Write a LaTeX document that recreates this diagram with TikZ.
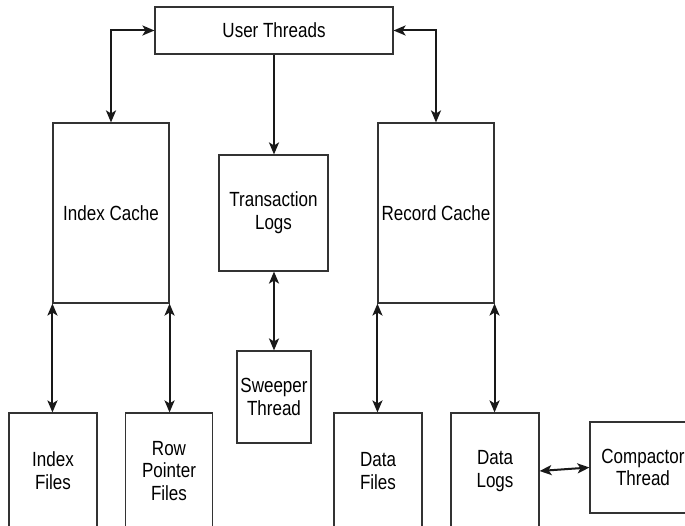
\documentclass[tikz,border=0pt]{standalone}
\usepackage{fontspec}
\setmainfont{Liberation Sans}[FakeStretch=0.83]
\usetikzlibrary{arrows.meta}
\begin{document}
\begin{tikzpicture}[x=1pt,y=-1pt,
  box/.style={draw=black!80, line width=1.1pt, fill=white, inner sep=0pt, align=center,
    font=\fontsize{20.5}{22.8}\selectfont},
  tip/.tip={Stealth[length=12pt,width=10pt,inset=3pt]},
  arr/.style={line width=2pt, draw=black!90, tip-tip},
  oarr/.style={line width=2pt, draw=black!90, -tip}]
\useasboundingbox (0,0) rectangle (685,526);
\clip (0,0) rectangle (685,526);
\fill[white] (0,0) rectangle (685,526);
\node[box, minimum width=238pt, minimum height=47pt] (ut) at (274,30.5) {User Threads};
\node[box, minimum width=116pt, minimum height=180pt] (ic) at (111,213) {Index Cache};
\node[box, minimum width=109pt, minimum height=116pt] (tl) at (273.5,213) {Transaction\\Logs};
\node[box, minimum width=116pt, minimum height=180pt] (rc) at (436,213) {Record Cache};
\node[box, minimum width=74pt, minimum height=92pt] (sw) at (274,397) {Sweeper\\Thread};
\node[box, minimum width=88pt, minimum height=116pt] (if) at (53,471) {Index\\Files};
\node[box, minimum width=87pt, minimum height=116pt] (rp) at (169,471) {Row\\Pointer\\Files};
\node[box, minimum width=88pt, minimum height=116pt] (df) at (378,471) {Data\\Files};
\node[box, minimum width=88pt, minimum height=116pt] (dl) at (495,471) {Data\\Logs};
\node[box, minimum width=106pt, minimum height=91pt] (ct) at (643,467.5) {Compactor\\Thread};
\draw[arr] (ic.north) |- (ut.west);
\draw[arr] (rc.north) |- (ut.east);
\draw[oarr] (ut.south) -- (ut.south |- tl.north);
\draw[arr] (ut.south |- tl.south) -- (ut.south |- sw.north);
\draw[arr] (ic.south west) -- (ic.south west |- if.north);
\draw[arr] (ic.south east) -- (ic.south east |- rp.north);
\draw[arr] (rc.south west) -- (rc.south west |- df.north);
\draw[arr] (rc.south east) -- (rc.south east |- dl.north);
\draw[arr] (dl.east) -- (ct.west);
\end{tikzpicture}
\end{document}
